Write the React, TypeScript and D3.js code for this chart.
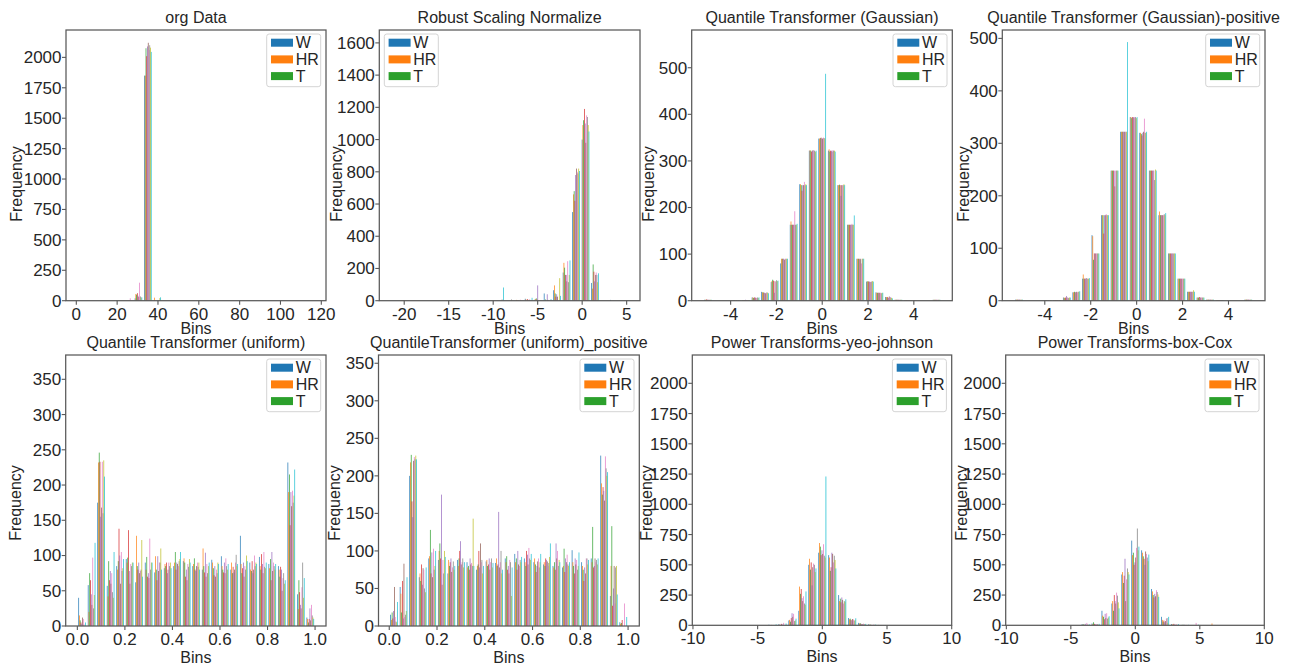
import * as d3 from "d3";

const COLORS = d3.schemeCategory10;
const LEGEND = ["W", "HR", "T"];
const FONT = "'Liberation Sans', Arial, sans-serif";

// ---- data: histogram counts per bin, 10 columns per bin (tab10 colour cycle) ----

const orgStart = 23.55;
const orgBinWidth = 4.6;
const orgCounts = [
  [0, 0, 0, 0, 0, 0, 20, 0, 0, 0],
  [20, 55, 50, 62, 40, 30, 148, 35, 25, 28],
  [1850, 1850, 2075, 2010, 2090, 2120, 2060, 2100, 2080, 2045],
  [0, 25, 0, 0, 0, 0, 0, 0, 22, 28],
  [], [], [], [], [],
  [0, 0, 0, 0, 0, 0, 0, 0, 4, 0],
];

const robustStart = -11.88;
const robustBinWidth = 1.066;
const robustCounts = [
  [],
  [0, 0, 0, 3, 0, 0, 0, 0, 0, 0],
  [0, 0, 0, 0, 0, 0, 0, 8, 0, 82],
  [0, 0, 0, 0, 0, 0, 0, 8, 0, 0],
  [0, 5, 0, 4, 0, 0, 6, 0, 0, 0],
  [12, 8, 0, 10, 0, 5, 8, 0, 0, 18],
  [6, 10, 15, 8, 95, 0, 0, 0, 0, 0],
  [45, 0, 8, 0, 40, 5, 0, 0, 0, 10],
  [65, 95, 45, 25, 40, 25, 0, 0, 140, 30],
  [175, 235, 205, 160, 160, 120, 245, 115, 160, 250],
  [550, 660, 680, 620, 780, 820, 800, 790, 820, 805],
  [1000, 1090, 1120, 1190, 1100, 980, 1150, 1140, 1090, 1050],
  [110, 75, 225, 180, 120, 160, 175, 160, 115, 170],
  [],
  [5, 0, 0, 0, 0, 0, 0, 0, 0, 0],
];

const gaussStart = -5.2;
const gaussBinWidth = 0.416;
const gaussCounts = [
  [2, 2, 2, 3, 2, 2, 2, 2, 2, 2],
  [], [],
  [1, 0, 1, 0, 1, 1, 0, 1, 0, 1],
  [1, 1, 1, 1, 2, 1, 1, 1, 1, 1],
  [7, 7, 6, 7, 7, 6, 6, 7, 6, 7],
  [19, 18, 18, 17, 17, 16, 17, 18, 17, 16],
  [40, 42, 45, 43, 17, 42, 40, 44, 42, 43],
  [80, 90, 90, 90, 90, 88, 90, 90, 90, 90],
  [163, 170, 163, 163, 163, 163, 192, 163, 163, 165],
  [250, 250, 248, 236, 248, 248, 255, 248, 250, 248],
  [322, 323, 322, 320, 322, 323, 322, 322, 320, 322],
  [348, 348, 349, 350, 348, 348, 350, 349, 348, 487],
  [322, 325, 320, 322, 322, 320, 323, 322, 322, 320],
  [248, 248, 249, 248, 225, 248, 248, 248, 250, 248],
  [163, 163, 163, 163, 163, 163, 165, 163, 163, 183],
  [90, 90, 90, 90, 88, 90, 80, 90, 90, 90],
  [41, 41, 42, 41, 41, 40, 41, 41, 42, 41],
  [18, 17, 17, 17, 17, 17, 17, 16, 17, 17],
  [8, 8, 7, 8, 6, 9, 8, 7, 6, 5],
  [2, 2, 2, 2, 2, 2, 2, 2, 2, 2],
  [1, 1, 1, 1, 1, 1, 1, 1, 1, 1],
  [], [],
  [2, 2, 2, 2, 2, 2, 2, 2, 2, 2],
];

const gaussPosStart = -5.33;
const gaussPosBinWidth = 0.416;
const gaussPosCounts = [
  [2, 2, 2, 2, 2, 2, 2, 2, 2, 2],
  [], [],
  [1, 0, 1, 1, 0, 1, 1, 0, 1, 1],
  [1, 1, 1, 1, 1, 1, 1, 1, 1, 1],
  [6, 6, 5, 6, 9, 6, 6, 5, 6, 6],
  [16, 16, 17, 16, 16, 17, 16, 17, 17, 18],
  [42, 50, 42, 42, 42, 43, 42, 42, 42, 43],
  [125, 123, 78, 90, 90, 90, 90, 90, 90, 90],
  [163, 163, 163, 128, 163, 163, 165, 163, 163, 163],
  [248, 248, 248, 248, 248, 218, 248, 248, 248, 248],
  [322, 322, 322, 322, 322, 322, 322, 322, 322, 493],
  [350, 350, 348, 350, 350, 349, 350, 350, 348, 350],
  [320, 320, 318, 315, 320, 322, 347, 320, 320, 322],
  [248, 248, 248, 248, 248, 248, 248, 230, 250, 248],
  [163, 170, 163, 163, 163, 163, 163, 165, 163, 167],
  [90, 90, 90, 90, 90, 90, 90, 90, 90, 90],
  [42, 42, 42, 42, 42, 42, 42, 42, 42, 42],
  [17, 17, 17, 17, 17, 17, 17, 17, 20, 17],
  [6, 6, 6, 7, 6, 6, 6, 6, 6, 6],
  [2, 2, 2, 2, 2, 2, 2, 2, 2, 2],
  [1, 1, 1, 1, 1, 1, 1, 1, 1, 1],
  [], [],
  [2, 2, 2, 2, 2, 2, 2, 2, 2, 2],
];

const uniformStart = 0;
const uniformBinWidth = 0.04;
const uniformCounts = [
  [40, 15, 8, 5, 3, 12, 10, 2, 0, 5],
  [58, 20, 75, 65, 45, 30, 97, 25, 44, 118],
  [175, 232, 246, 233, 155, 168, 233, 160, 235, 212],
  [57, 42, 92, 65, 78, 60, 75, 48, 40, 105],
  [85, 80, 92, 138, 100, 60, 105, 78, 82, 95],
  [95, 90, 97, 136, 78, 60, 88, 85, 90, 90],
  [62, 128, 85, 80, 90, 75, 78, 80, 122, 70],
  [90, 80, 98, 70, 75, 68, 124, 80, 90, 90],
  [76, 99, 80, 65, 99, 78, 90, 90, 110, 80],
  [82, 88, 85, 90, 75, 80, 90, 85, 90, 82],
  [85, 90, 105, 80, 90, 88, 85, 92, 95, 105],
  [92, 96, 90, 70, 80, 65, 88, 84, 95, 90],
  [85, 88, 96, 80, 78, 85, 90, 84, 90, 80],
  [80, 110, 85, 76, 104, 70, 88, 75, 85, 90],
  [94, 90, 82, 72, 85, 70, 80, 75, 90, 88],
  [99, 85, 80, 76, 90, 75, 96, 85, 80, 88],
  [80, 90, 75, 84, 76, 80, 90, 101, 85, 88],
  [128, 88, 75, 82, 90, 70, 85, 80, 100, 92],
  [90, 80, 78, 92, 75, 80, 100, 85, 90, 88],
  [98, 85, 80, 102, 88, 75, 105, 84, 82, 90],
  [88, 82, 95, 65, 105, 78, 90, 85, 80, 88],
  [85, 80, 70, 84, 80, 50, 68, 75, 60, 65],
  [232, 190, 215, 143, 190, 170, 192, 175, 185, 222],
  [45, 24, 65, 48, 30, 25, 55, 90, 40, 68],
  [12, 10, 5, 10, 25, 8, 30, 15, 12, 10],
];

const uniformPosStart = 0;
const uniformPosBinWidth = 0.04;
const uniformPosCounts = [
  [15, 8, 18, 10, 20, 52, 12, 6, 5, 32],
  [52, 43, 18, 60, 10, 83, 12, 15, 20, 65],
  [200, 218, 228, 166, 145, 220, 225, 222, 227, 222],
  [65, 70, 60, 82, 55, 77, 75, 50, 45, 78],
  [90, 93, 128, 70, 98, 65, 103, 75, 80, 100],
  [88, 100, 110, 90, 175, 55, 88, 70, 100, 92],
  [70, 88, 80, 85, 90, 72, 78, 86, 75, 80],
  [88, 80, 90, 100, 113, 82, 85, 90, 78, 85],
  [85, 78, 80, 75, 90, 82, 84, 80, 143, 80],
  [75, 80, 82, 100, 78, 110, 85, 88, 70, 80],
  [86, 88, 80, 82, 90, 75, 85, 90, 78, 84],
  [84, 90, 80, 82, 152, 78, 85, 100, 70, 75],
  [90, 85, 93, 75, 80, 70, 88, 85, 40, 78],
  [96, 85, 90, 75, 100, 82, 80, 88, 85, 92],
  [90, 85, 80, 100, 95, 82, 104, 90, 88, 96],
  [85, 90, 82, 72, 80, 86, 90, 78, 85, 96],
  [82, 85, 80, 90, 88, 86, 80, 84, 92, 110],
  [80, 78, 85, 75, 110, 90, 100, 80, 88, 85],
  [78, 80, 103, 72, 90, 85, 95, 82, 80, 85],
  [101, 85, 80, 70, 90, 82, 88, 75, 80, 98],
  [85, 80, 75, 60, 78, 70, 90, 90, 82, 88],
  [90, 85, 132, 78, 80, 90, 85, 88, 82, 90],
  [227, 190, 175, 185, 180, 167, 226, 210, 200, 205],
  [40, 80, 133, 27, 50, 80, 30, 78, 80, 42],
  [5, 3, 4, 8, 0, 0, 30, 0, 0, 12],
];

const yeoStart = -4.235;
const yeoBinWidth = 0.77;
const yeoCounts = [
  [5, 0, 0, 3, 0, 0, 0, 0, 0, 8],
  [10, 5, 0, 12, 8, 0, 20, 0, 0, 15],
  [40, 45, 30, 60, 100, 70, 95, 35, 40, 55],
  [120, 320, 260, 300, 225, 200, 240, 180, 170, 280],
  [500, 550, 460, 520, 330, 480, 510, 500, 440, 470],
  [600, 680, 650, 580, 620, 590, 670, 575, 560, 1230],
  [580, 560, 450, 480, 600, 590, 520, 575, 540, 470],
  [250, 200, 220, 190, 230, 210, 180, 200, 195, 215],
  [60, 50, 55, 45, 40, 52, 48, 38, 42, 58],
  [20, 15, 18, 12, 10, 8, 14, 10, 6, 12],
  [8, 5, 6, 4, 3, 2, 5, 4, 3, 6],
  [3, 2, 1, 2, 1, 0, 2, 1, 0, 2],
];

const boxcoxStart = -4.235;
const boxcoxBinWidth = 0.77;
const boxcoxCounts = [
  [10, 5, 8, 4, 12, 0, 20, 5, 3, 8],
  [15, 10, 25, 12, 8, 6, 10, 8, 5, 12],
  [120, 80, 70, 50, 95, 60, 100, 55, 65, 75],
  [180, 200, 120, 250, 200, 180, 270, 245, 190, 140],
  [420, 440, 350, 410, 550, 200, 380, 470, 440, 420],
  [700, 580, 600, 500, 520, 560, 640, 800, 620, 650],
  [620, 600, 570, 550, 500, 610, 590, 560, 530, 585],
  [300, 280, 250, 230, 260, 240, 290, 275, 255, 235],
  [70, 45, 30, 40, 25, 35, 55, 60, 20, 70],
  [10, 8, 5, 12, 6, 4, 8, 5, 3, 10],
  [3, 2, 5, 2, 4, 1, 3, 2, 2, 4],
  [0, 0, 0, 0, 0, 0, 20, 0, 0, 5],
  [],
  [0, 15, 0, 0, 0, 0, 0, 0, 0, 0],
];

// ---- tick values ----
const orgXTicks = [0, 20, 40, 60, 80, 100, 120];
const orgYTicks = [0, 250, 500, 750, 1000, 1250, 1500, 1750, 2000];
const robustXTicks = [-20, -15, -10, -5, 0, 5];
const robustYTicks = [0, 200, 400, 600, 800, 1000, 1200, 1400, 1600];
const gaussXTicks = [-4, -2, 0, 2, 4];
const gaussYTicks = [0, 100, 200, 300, 400, 500];
const uniformXTicks = [0, 0.2, 0.4, 0.6, 0.8, 1.0];
const uniformYTicks = [0, 50, 100, 150, 200, 250, 300, 350];
const powerXTicks = [-10, -5, 0, 5, 10];
const powerYTicks = [0, 250, 500, 750, 1000, 1250, 1500, 1750, 2000];

const panels = [
  { title: "org Data", start: orgStart, bw: orgBinWidth, counts: orgCounts, xDomain: [-5.05, 122.3], yMax: 2225, xTicks: orgXTicks, yTicks: orgYTicks, dec: 0, box: [66, 30, 326, 300.7], legendLeft: false, ylab: 50 },
  { title: "Robust Scaling Normalize", start: robustStart, bw: robustBinWidth, counts: robustCounts, xDomain: [-22.8, 6.5], yMax: 1680, xTicks: robustXTicks, yTicks: robustYTicks, dec: 0, box: [379.3, 30, 640, 300.7], legendLeft: true, ylab: 43 },
  { title: "Quantile Transformer (Gaussian)", start: gaussStart, bw: gaussBinWidth, counts: gaussCounts, xDomain: [-5.7, 5.68], yMax: 581, xTicks: gaussXTicks, yTicks: gaussYTicks, dec: 0, box: [691.7, 30, 952.3, 300.7], legendLeft: false, ylab: 43 },
  { title: "Quantile Transformer (Gaussian)-positive", start: gaussPosStart, bw: gaussPosBinWidth, counts: gaussPosCounts, xDomain: [-5.85, 5.59], yMax: 516, xTicks: gaussXTicks, yTicks: gaussYTicks, dec: 0, box: [1002.3, 30, 1265, 300.7], legendLeft: false, ylab: 39 },
  { title: "Quantile Transformer (uniform)", start: uniformStart, bw: uniformBinWidth, counts: uniformCounts, xDomain: [-0.049, 1.046], yMax: 384.5, xTicks: uniformXTicks, yTicks: uniformYTicks, dec: 1, box: [65.7, 355, 326, 626], legendLeft: false, ylab: 50 },
  { title: "QuantileTransformer (uniform)_positive", start: uniformPosStart, bw: uniformPosBinWidth, counts: uniformPosCounts, xDomain: [-0.045, 1.047], yMax: 361, xTicks: uniformXTicks, yTicks: uniformYTicks, dec: 1, box: [378.5, 355, 639.3, 626], legendLeft: false, ylab: 44 },
  { title: "Power Transforms-yeo-johnson", start: yeoStart, bw: yeoBinWidth, counts: yeoCounts, xDomain: [-10.05, 10], yMax: 2234, xTicks: powerXTicks, yTicks: powerYTicks, dec: 0, box: [692.3, 355, 951.7, 625.3], legendLeft: false, ylab: 46 },
  { title: "Power Transforms-box-Cox", start: boxcoxStart, bw: boxcoxBinWidth, counts: boxcoxCounts, xDomain: [-10.05, 10], yMax: 2234, xTicks: powerXTicks, yTicks: powerYTicks, dec: 0, box: [1005.7, 355, 1264.3, 625.3], legendLeft: false, ylab: 44 },
];

const TEXT = "#262626";
const FRAME = "#595959";

function Panel({ p, idx }: { p: any; idx: number }) {
  const [x0, y0, x1, y1] = p.box;
  const top = idx < 4;
  const x = d3.scaleLinear().domain(p.xDomain).range([x0, x1]);
  const y = d3.scaleLinear().domain([0, p.yMax]).range([y1, y0]);
  const n = COLORS.length;
  const sw = (0.8 * p.bw) / n;

  const bars: any[] = [];
  p.counts.forEach((row: number[], i: number) => {
    const edge = p.start + i * p.bw;
    row.forEach((v, j) => {
      if (!v) return;
      const a = edge + 0.1 * p.bw + j * sw;
      bars.push(
        <rect
          key={`${i}-${j}`}
          x={x(a)}
          width={x(a + sw) - x(a)}
          y={y(v)}
          height={y(0) - y(v)}
          fill={COLORS[j % n]}
          fillOpacity={0.92}
        />
      );
    });
  });

  const lx = p.legendLeft ? x0 + 5 : x1 - 5.3 - 54;
  const ly = y0 + 4;
  const ylabY = top ? 184 : 503;
  const binsY = y1 + (top ? 33.5 : 36.5);

  return (
    <g>
      <g>{bars}</g>
      <rect x={x0} y={y0} width={x1 - x0} height={y1 - y0} fill="none" stroke={FRAME} strokeWidth={1.25} />
      {p.xTicks.map((t: number) => (
        <g key={`x${t}`}>
          <line x1={x(t)} x2={x(t)} y1={y1} y2={y1 + 4} stroke={FRAME} strokeWidth={1.1} />
          <text x={x(t)} y={y1 + 19} textAnchor="middle" fontSize={17} fill={TEXT}>
            {t.toFixed(p.dec)}
          </text>
        </g>
      ))}
      {p.yTicks.map((t: number) => (
        <g key={`y${t}`}>
          <line x1={x0 - 4} x2={x0} y1={y(t)} y2={y(t)} stroke={FRAME} strokeWidth={1.1} />
          <text x={x0 - 4.5} y={y(t)} dy="0.35em" textAnchor="end" fontSize={17} fill={TEXT}>
            {t}
          </text>
        </g>
      ))}
      <text x={(x0 + x1) / 2} y={y0 - 7.5} textAnchor="middle" fontSize={16} fill={TEXT}>
        {p.title}
      </text>
      <text x={(x0 + x1) / 2} y={binsY} textAnchor="middle" fontSize={16} fill={TEXT}>
        Bins
      </text>
      <text
        transform={`translate(${x0 - p.ylab},${ylabY}) rotate(-90)`}
        textAnchor="middle"
        dy="0.35em"
        fontSize={16}
        fill={TEXT}
      >
        Frequency
      </text>
      <g transform={`translate(${lx},${ly})`}>
        <rect width={54} height={52.7} rx={2.5} fill="white" fillOpacity={0.85} stroke="#d4d4d4" strokeWidth={1} />
        {LEGEND.map((name, k) => (
          <g key={name} transform={`translate(0,${8.7 + k * 16.7})`}>
            <rect x={4.3} y={-4} width={22} height={8} fill={COLORS[k]} />
            <text x={29} y={0} dy="0.36em" fontSize={16} fill={TEXT}>
              {name}
            </text>
          </g>
        ))}
      </g>
    </g>
  );
}

export default function App() {
  return (
    <svg
      width={1291}
      height={667}
      viewBox="0 0 1291 667"
      style={{ position: "absolute", left: 0, top: 0, background: "white", fontFamily: FONT }}
    >
      {panels.map((p, i) => (
        <Panel key={p.title} p={p} idx={i} />
      ))}
    </svg>
  );
}
